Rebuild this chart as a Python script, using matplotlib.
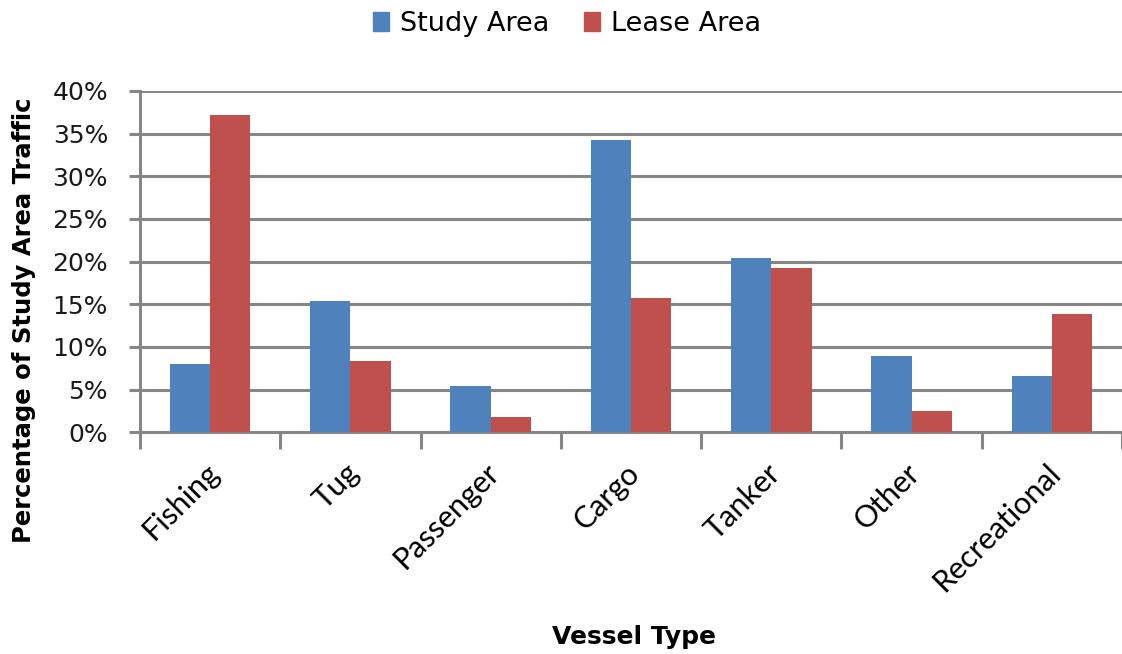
import numpy as np
import matplotlib
matplotlib.use("Agg")
import matplotlib.pyplot as plt
import matplotlib.transforms as mtransforms
from matplotlib.patches import Patch

# Share of traffic by vessel type (percent)
vessel_types = ["Fishing", "Tug", "Passenger", "Cargo", "Tanker", "Other", "Recreational"]
study_area = [8.0, 15.4, 5.4, 34.3, 20.4, 8.9, 6.6]
lease_area = [37.2, 8.3, 1.8, 15.7, 19.2, 2.5, 13.9]
series_names = ["Study Area", "Lease Area"]

BLUE = "#4F81BD"
RED = "#C0504D"
GRID = "#868686"

W, H = 1122, 654
fig = plt.figure(figsize=(W / 100, H / 100), dpi=100)

# axes box in pixels: left 140, right edge of figure, 0% at y=432, 40% at y=91
left, right, top, bottom = 140, W, 91, 432.3
ax = fig.add_axes([left / W, 1 - bottom / H, (right - left) / W, (bottom - top) / H])

x = np.arange(len(vessel_types))
bw = 0.2875
ax.bar(x - bw / 2, study_area, bw, color=BLUE, zorder=3)
ax.bar(x + bw / 2, lease_area, bw, color=RED, zorder=3)

ax.set_ylim(0, 40)
ax.set_xlim(-0.5, -0.5 + (right - left) / 141.0)
ax.set_yticks(range(0, 41, 5))
ax.set_yticklabels([f"{v}%" for v in range(0, 41, 5)],
                   fontsize=18, family="DejaVu Sans", color="#1a1a1a")
ax.yaxis.grid(True, color=GRID, linewidth=2.2, zorder=0)
ax.set_axisbelow(True)

for side in ("top", "right"):
    ax.spines[side].set_visible(False)
for side in ("left", "bottom"):
    ax.spines[side].set_color(GRID)
    ax.spines[side].set_linewidth(2.2)

ax.tick_params(axis="y", length=8, width=2.2, color=GRID, pad=15)

# category boundaries carry the tick marks, labels sit at the centres
ax.set_xticks(np.arange(-0.5, len(vessel_types), 1.0), minor=True)
ax.set_xticks(x)
ax.set_xticklabels(vessel_types, rotation=45, ha="right", va="center",
                   rotation_mode="anchor", fontsize=22, family="Lato")
ax.tick_params(axis="x", which="major", length=0, pad=26)
ax.tick_params(axis="x", which="minor", length=12, width=2.2, color=GRID)
shift = mtransforms.ScaledTranslation(3 / 72, 0, fig.dpi_scale_trans)
for lbl in ax.get_xticklabels():
    lbl.set_transform(lbl.get_transform() + shift)

fig.text(24 / W, 1 - 320 / H, "Percentage of Study Area Traffic", rotation=90,
         ha="center", va="center", fontsize=17.5, fontweight="bold",
         family="DejaVu Sans")
fig.text(634 / W, 1 - 637 / H, "Vessel Type", ha="center", va="center",
         fontsize=18, fontweight="bold", family="Liberation Sans Narrow")

handles = [Patch(color=BLUE), Patch(color=RED)]
fig.legend(handles, series_names, loc="center", bbox_to_anchor=(567 / W, 1 - 24 / H),
           ncol=2, frameon=False, handlelength=0.6, handleheight=0.75,
           handletextpad=0.4, columnspacing=1.3,
           prop={"family": "DejaVu Sans", "size": 19.5})

fig.savefig("out.png", dpi=100)
